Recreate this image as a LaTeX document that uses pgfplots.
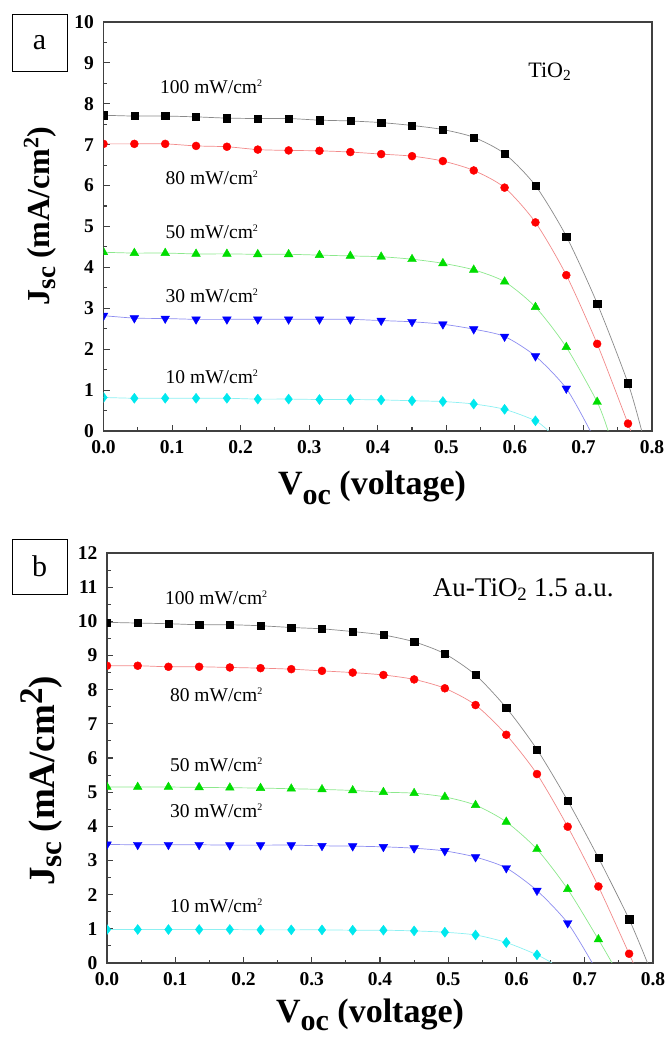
\documentclass[border=0pt]{standalone}
\usepackage{fontspec}
\setmainfont{Liberation Serif}
\usepackage{pgfplots}
\pgfplotsset{compat=1.18}

\definecolor{mkred}{HTML}{FF0000}
\definecolor{mkgreen}{HTML}{00DD00}
\definecolor{mkblue}{HTML}{0000FF}
\definecolor{mkcyan}{HTML}{00E8EE}
\definecolor{lnblack}{HTML}{8A8A8A}
\definecolor{lnred}{HTML}{F28A8A}
\definecolor{lngreen}{HTML}{8CE88C}
\definecolor{lnblue}{HTML}{8C8CF0}
\definecolor{lncyan}{HTML}{8CF0F2}

\pgfplotsset{
  jv/.style={
    scale only axis,
    xmin=0, xmax=0.8, ymin=0,
    xtick={0,0.1,0.2,0.3,0.4,0.5,0.6,0.7,0.8},
    minor x tick num=1, minor y tick num=1,
    tick align=inside,
    xtick pos=left, ytick pos=left,
    major tick length=6pt, minor tick length=3.5pt,
    axis line style={line width=1.4pt, draw=black!75},
    every tick/.style={line width=1.1pt, black!75},
    ticklabel style={font=\fontsize{19.5}{19.5}\selectfont\bfseries},
    /pgf/number format/assume math mode=true,
    xticklabel style={yshift=-6pt, /pgf/number format/.cd, fixed, fixed zerofill, precision=1},
    yticklabel style={xshift=-6pt},
    clip mode=global,
    clip marker paths=true,
  },
  ln/.style={no marks, smooth, tension=0.45, line width=0.7pt},
  mkA/.style={only marks, mark=square*, mark size=3.6pt, black},
  mkB/.style={only marks, mark=*, mark size=4pt, mkred},
  mkC/.style={only marks, mark=triangle*, mark size=5pt, mkgreen},
  mkD/.style={only marks, mark=triangle*, mark options={rotate=180}, mark size=5pt, mkblue},
  mkE/.style={only marks, mark=diamond*, mark size=5pt, mkcyan},
}
\newcommand{\lab}[1]{{\fontsize{19.5}{19.5}\selectfont #1 mW/cm\raisebox{7pt}{\fontsize{10}{10}\selectfont 2}}}

\begin{document}
\begin{tikzpicture}[x=1pt,y=1pt]
\path[use as bounding box] (0,0) rectangle (669,1037);

% ---------------- panel a ----------------
\begin{axis}[jv, at={(103.5pt,606pt)}, anchor=south west,
  width=548.5pt, height=409pt, ymax=10, ytick={0,1,2,3,4,5,6,7,8,9,10}]
% fitted lines
\addplot[ln, lnblack] coordinates {(0,7.72)(0.045,7.70)(0.09,7.70)(0.135,7.68)(0.18,7.65)(0.225,7.64)(0.27,7.64)(0.315,7.60)(0.36,7.58)(0.405,7.54)(0.45,7.47)(0.495,7.37)(0.54,7.18)(0.585,6.78)(0.63,6.00)(0.675,4.76)(0.72,3.12)(0.765,1.17)(0.785,0)};
\addplot[ln, lnred] coordinates {(0,7.02)(0.045,7.02)(0.09,7.02)(0.135,6.97)(0.18,6.95)(0.225,6.88)(0.27,6.86)(0.315,6.85)(0.36,6.82)(0.405,6.77)(0.45,6.72)(0.495,6.60)(0.54,6.37)(0.585,5.95)(0.63,5.10)(0.675,3.81)(0.72,2.13)(0.765,0.18)(0.769,0)};
\addplot[ln, lngreen] coordinates {(0,4.37)(0.045,4.35)(0.09,4.35)(0.135,4.33)(0.18,4.33)(0.225,4.32)(0.27,4.32)(0.315,4.30)(0.36,4.28)(0.405,4.26)(0.45,4.20)(0.495,4.10)(0.54,3.94)(0.585,3.65)(0.63,3.03)(0.675,2.05)(0.72,0.71)(0.736,0)};
\addplot[ln, lnblue] coordinates {(0,2.82)(0.045,2.76)(0.09,2.75)(0.135,2.73)(0.18,2.73)(0.225,2.73)(0.27,2.73)(0.315,2.73)(0.36,2.73)(0.405,2.70)(0.45,2.67)(0.495,2.61)(0.54,2.49)(0.585,2.31)(0.63,1.83)(0.675,1.04)(0.71,0)};
\addplot[ln, lncyan] coordinates {(0,0.82)(0.045,0.80)(0.09,0.80)(0.135,0.80)(0.18,0.80)(0.225,0.78)(0.27,0.78)(0.315,0.77)(0.36,0.77)(0.405,0.76)(0.45,0.74)(0.495,0.72)(0.54,0.66)(0.585,0.53)(0.63,0.25)(0.649,0)};
% data points
\addplot[mkA] coordinates {(0,7.72)(0.045,7.70)(0.09,7.70)(0.135,7.68)(0.18,7.65)(0.225,7.64)(0.27,7.64)(0.315,7.60)(0.36,7.58)(0.405,7.54)(0.45,7.47)(0.495,7.37)(0.54,7.18)(0.585,6.78)(0.63,6.00)(0.675,4.76)(0.72,3.12)(0.765,1.17)};
\addplot[mkB] coordinates {(0,7.02)(0.045,7.02)(0.09,7.02)(0.135,6.97)(0.18,6.95)(0.225,6.88)(0.27,6.86)(0.315,6.85)(0.36,6.82)(0.405,6.77)(0.45,6.72)(0.495,6.60)(0.54,6.37)(0.585,5.95)(0.63,5.10)(0.675,3.81)(0.72,2.13)(0.765,0.18)};
\addplot[mkC] coordinates {(0,4.37)(0.045,4.35)(0.09,4.35)(0.135,4.33)(0.18,4.33)(0.225,4.32)(0.27,4.32)(0.315,4.30)(0.36,4.28)(0.405,4.26)(0.45,4.20)(0.495,4.10)(0.54,3.94)(0.585,3.65)(0.63,3.03)(0.675,2.05)(0.72,0.71)};
\addplot[mkD] coordinates {(0,2.82)(0.045,2.76)(0.09,2.75)(0.135,2.73)(0.18,2.73)(0.225,2.73)(0.27,2.73)(0.315,2.73)(0.36,2.73)(0.405,2.70)(0.45,2.67)(0.495,2.61)(0.54,2.49)(0.585,2.31)(0.63,1.83)(0.675,1.04)};
\addplot[mkE] coordinates {(0,0.82)(0.045,0.80)(0.09,0.80)(0.135,0.80)(0.18,0.80)(0.225,0.78)(0.27,0.78)(0.315,0.77)(0.36,0.77)(0.405,0.76)(0.45,0.74)(0.495,0.72)(0.54,0.66)(0.585,0.53)(0.63,0.25)};
% labels
\node at (axis cs:0.157,8.42) {\lab{100}};
\node at (axis cs:0.158,6.20) {\lab{80}};
\node at (axis cs:0.158,4.86) {\lab{50}};
\node at (axis cs:0.158,3.30) {\lab{30}};
\node at (axis cs:0.158,1.32) {\lab{10}};
\node at (axis cs:0.651,8.78) {\fontsize{22}{22}\selectfont TiO\textsubscript{2}};
\end{axis}

% ---------------- panel b ----------------
\begin{axis}[jv, at={(107pt,74pt)}, anchor=south west,
  width=546pt, height=410pt, ymax=12, ytick={0,1,2,3,4,5,6,7,8,9,10,11,12}]
\addplot[ln, lnblack] coordinates {(0,9.97)(0.045,9.95)(0.09,9.93)(0.135,9.90)(0.18,9.90)(0.225,9.87)(0.27,9.82)(0.315,9.78)(0.36,9.70)(0.405,9.60)(0.45,9.40)(0.495,9.05)(0.54,8.43)(0.585,7.47)(0.63,6.25)(0.675,4.75)(0.72,3.08)(0.765,1.28)(0.792,0)};
\addplot[ln, lnred] coordinates {(0,8.70)(0.045,8.70)(0.09,8.67)(0.135,8.67)(0.18,8.65)(0.225,8.63)(0.27,8.60)(0.315,8.55)(0.36,8.50)(0.405,8.43)(0.45,8.30)(0.495,8.04)(0.54,7.55)(0.585,6.68)(0.63,5.53)(0.675,3.99)(0.72,2.24)(0.765,0.27)(0.771,0)};
\addplot[ln, lngreen] coordinates {(0,5.15)(0.045,5.15)(0.09,5.15)(0.135,5.14)(0.18,5.13)(0.225,5.12)(0.27,5.10)(0.315,5.08)(0.36,5.05)(0.405,5.00)(0.45,4.97)(0.495,4.86)(0.54,4.62)(0.585,4.13)(0.63,3.33)(0.675,2.16)(0.72,0.69)(0.74,0)};
\addplot[ln, lnblue] coordinates {(0,3.47)(0.045,3.46)(0.09,3.46)(0.135,3.46)(0.18,3.45)(0.225,3.45)(0.27,3.45)(0.315,3.43)(0.36,3.42)(0.405,3.40)(0.45,3.36)(0.495,3.28)(0.54,3.10)(0.585,2.78)(0.63,2.12)(0.675,1.17)(0.711,0)};
\addplot[ln, lncyan] coordinates {(0,0.98)(0.045,0.98)(0.09,0.98)(0.135,0.98)(0.18,0.98)(0.225,0.97)(0.27,0.97)(0.315,0.97)(0.36,0.96)(0.405,0.96)(0.45,0.94)(0.495,0.90)(0.54,0.82)(0.585,0.60)(0.63,0.24)(0.652,0)};
\addplot[mkA] coordinates {(0,9.97)(0.045,9.95)(0.09,9.93)(0.135,9.90)(0.18,9.90)(0.225,9.87)(0.27,9.82)(0.315,9.78)(0.36,9.70)(0.405,9.60)(0.45,9.40)(0.495,9.05)(0.54,8.43)(0.585,7.47)(0.63,6.25)(0.675,4.75)(0.72,3.08)(0.765,1.28)};
\addplot[mkB] coordinates {(0,8.70)(0.045,8.70)(0.09,8.67)(0.135,8.67)(0.18,8.65)(0.225,8.63)(0.27,8.60)(0.315,8.55)(0.36,8.50)(0.405,8.43)(0.45,8.30)(0.495,8.04)(0.54,7.55)(0.585,6.68)(0.63,5.53)(0.675,3.99)(0.72,2.24)(0.765,0.27)};
\addplot[mkC] coordinates {(0,5.15)(0.045,5.15)(0.09,5.15)(0.135,5.14)(0.18,5.13)(0.225,5.12)(0.27,5.10)(0.315,5.08)(0.36,5.05)(0.405,5.00)(0.45,4.97)(0.495,4.86)(0.54,4.62)(0.585,4.13)(0.63,3.33)(0.675,2.16)(0.72,0.69)};
\addplot[mkD] coordinates {(0,3.47)(0.045,3.46)(0.09,3.46)(0.135,3.46)(0.18,3.45)(0.225,3.45)(0.27,3.45)(0.315,3.43)(0.36,3.42)(0.405,3.40)(0.45,3.36)(0.495,3.28)(0.54,3.10)(0.585,2.78)(0.63,2.12)(0.675,1.17)};
\addplot[mkE] coordinates {(0,0.98)(0.045,0.98)(0.09,0.98)(0.135,0.98)(0.18,0.98)(0.225,0.97)(0.27,0.97)(0.315,0.97)(0.36,0.96)(0.405,0.96)(0.45,0.94)(0.495,0.90)(0.54,0.82)(0.585,0.60)(0.63,0.24)};
\node at (axis cs:0.16,10.70) {\lab{100}};
\node at (axis cs:0.16,7.86) {\lab{80}};
\node at (axis cs:0.16,5.80) {\lab{50}};
\node at (axis cs:0.16,4.44) {\lab{30}};
\node at (axis cs:0.16,1.66) {\lab{10}};
\node at (axis cs:0.61,10.92) {\fontsize{27}{27}\selectfont Au-TiO\textsubscript{2} 1.5 a.u.};
\end{axis}

% panel tags
\draw[line width=0.9pt] (12,966) rectangle (67,1023);
\node at (39.5,994.5) {\fontsize{30}{30}\selectfont a};
\draw[line width=0.9pt] (12,443) rectangle (67,498);
\node at (39.5,470.5) {\fontsize{30}{30}\selectfont b};

% axis titles
\node[rotate=90] at (40,821) {\fontsize{32}{32}\selectfont\bfseries J\raisebox{-6pt}{\fontsize{27}{27}\selectfont sc} (mA/cm\raisebox{11pt}{\fontsize{22}{22}\selectfont 2})};
\node[rotate=90] at (42,256) {\fontsize{37}{37}\selectfont\bfseries J\raisebox{-7pt}{\fontsize{31}{31}\selectfont sc} (mA/cm\raisebox{12pt}{\fontsize{33}{33}\selectfont 2})};
\node[anchor=base] at (372,542) {\fontsize{34}{34}\selectfont\bfseries V\raisebox{-10pt}{\fontsize{30}{30}\selectfont oc} (voltage)};
\node[anchor=base] at (370,14) {\fontsize{34}{34}\selectfont\bfseries V\raisebox{-8pt}{\fontsize{30}{30}\selectfont oc} (voltage)};
\end{tikzpicture}
\end{document}
